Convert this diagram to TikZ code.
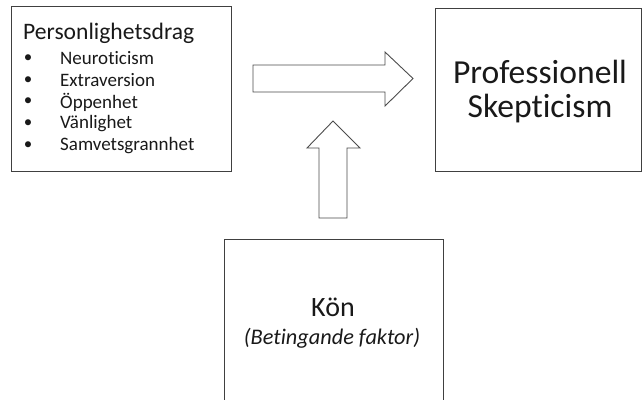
\documentclass[tikz,border=0pt]{standalone}
\usepackage{fontspec}
\setmainfont{Carlito}[Ligatures=NoCommon]
\begin{document}
\begin{tikzpicture}[x=1pt,y=-1pt,
  boxst/.style={draw=black!75,line width=1pt},
  arrowst/.style={draw=black!70,line width=0.9pt,fill=white},
  txt/.style={inner sep=0pt,text=black!90}]
\useasboundingbox (0,0) rectangle (642,399);
% left box
\draw[boxst] (11.5,6.5) rectangle (231.5,171);
\node[txt,anchor=west,font=\fontsize{23.6}{28}\selectfont] (title) at (23,33.5) {Personlighetsdrag};
\foreach \t/\y [count=\i] in {Neuroticism/58.5,Extraversion/80.5,Öppenhet/102,Vänlighet/123.5,Samvetsgrannhet/145.5}{
  \node[txt,font=\fontsize{17}{20}\selectfont] (b\i) at (28,\y) {\textbullet};
  \node[txt,anchor=west,font=\fontsize{19}{22}\selectfont] (it\i) at (60,\y) {\t};
}
% right box
\draw[boxst] (435.5,8) rectangle (641,171);
\node[txt,align=center,font=\fontsize{33.6}{34}\selectfont] (ps) at (540,92) {Professionell\\Skepticism};
% bottom box (cut off at bottom)
\draw[boxst] (224,400) -- (224,239) -- (443,239) -- (443,400);
\node[txt,font=\fontsize{28}{32}\selectfont] (kon) at (333,307) {Kön};
\node[txt,font=\fontsize{22.3}{26}\itshape] (bf) at (332,338) {(Betingande faktor)};
% right arrow
\draw[arrowst] (253,65) -- (385,65) -- (385,52) -- (413,78.5) -- (385,106) -- (385,92) -- (253,92) -- cycle;
% up arrow
\draw[arrowst] (319,218) -- (319,148) -- (307,148) -- (333,121) -- (360,148) -- (347,148) -- (347,218) -- cycle;
\end{tikzpicture}
\end{document}
